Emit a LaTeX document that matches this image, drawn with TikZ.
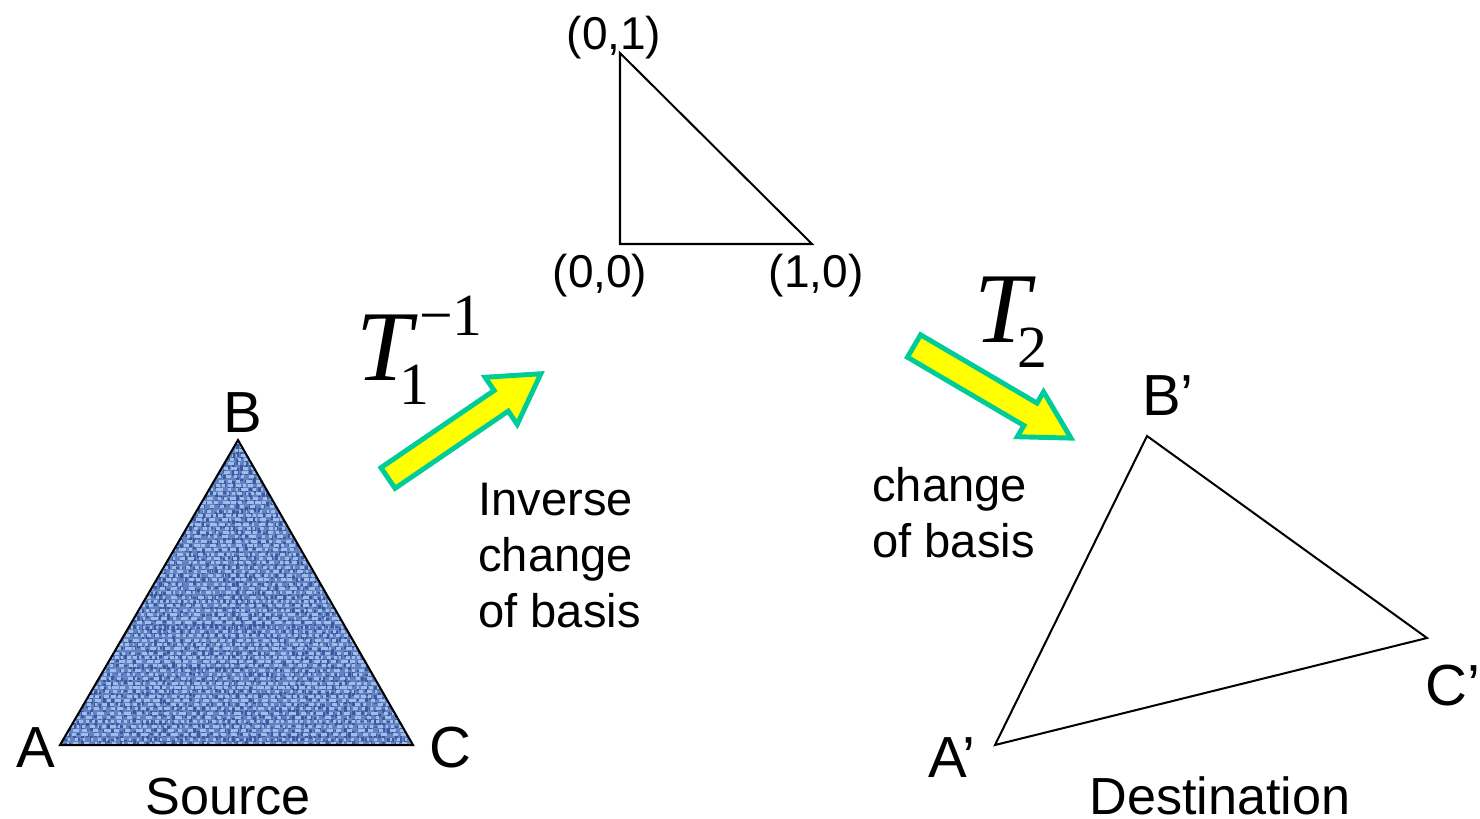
\documentclass[tikz,border=0pt]{standalone}
\usepackage{fontspec}
\setmainfont{Liberation Sans}
\newfontfamily\tfont{Liberation Serif}
\definecolor{wmid}{RGB}{98,130,194}
\definecolor{wdark}{RGB}{60,90,158}
\definecolor{wlight}{RGB}{160,188,234}
\definecolor{arrowgreen}{RGB}{0,204,153}
\definecolor{arrowyellow}{RGB}{255,255,0}
\newcommand\fatarrowpath[4]{(0,-#2) -- ({#1-#4},-#2) -- ({#1-#4},-#3) -- (#1,0) -- ({#1-#4},#3) -- ({#1-#4},#2) -- (0,#2) -- cycle}
\tikzset{
  lbl/.style={inner sep=0pt, font=\fontsize{33}{38}\selectfont, anchor=base},
  caption/.style={inner sep=0pt, font=\fontsize{29.7}{34}\selectfont, anchor=base},
  coord/.style={inner sep=0pt, font=\fontsize{26.2}{30}\selectfont, anchor=base},
  note/.style={inner sep=0pt, font=\fontsize{26.8}{31.8}\selectfont, align=left, anchor=north west},
  tlabel/.style={inner sep=0pt, anchor=base west},
  edge/.style={draw=black, line width=1.15pt, line join=miter},
  bigarrow/.style={draw=arrowgreen, fill=arrowyellow, line width=2.8pt, line join=miter},
  thread/.style={line width=1.7pt}
}
\begin{document}
\begin{tikzpicture}[x=0.02cm, y=-0.02cm]
\path[use as bounding box] (0,0) rectangle (1480,818);
% source triangle
\coordinate (A) at (60,745);
\coordinate (B) at (238,440);
\coordinate (C) at (413,745);
\fill[wmid] (A) -- (B) -- (C) -- cycle;
\begin{scope}
  \clip (A) -- (B) -- (C) -- cycle;
  \pgfmathsetseed{7}
  \foreach \j in {0,...,82}{
    \pgfmathsetmacro\ra{0.8+3*rnd}\pgfmathsetmacro\rb{0.8+3*rnd}\pgfmathsetmacro\rc{0.8+3*rnd}
    \pgfmathsetmacro\rd{0.8+3*rnd}\pgfmathsetmacro\re{0.8+3*rnd}\pgfmathsetmacro\rf{0.8+3*rnd}
    \pgfmathsetmacro\rp{12*rnd}
    \draw[thread, wdark, dash pattern=on \ra pt off \rb pt on \rc pt off \rd pt on \re pt off \rf pt, dash phase=\rp pt]
      ({57+4.3*\j},436) -- ({57+4.3*\j},750);
  }
  \foreach \i in {0,...,73}{
    \pgfmathsetmacro\ra{0.8+3*rnd}\pgfmathsetmacro\rb{0.8+3*rnd}\pgfmathsetmacro\rc{0.8+3*rnd}
    \pgfmathsetmacro\rd{0.8+3*rnd}\pgfmathsetmacro\re{0.8+3*rnd}\pgfmathsetmacro\rf{0.8+3*rnd}
    \pgfmathsetmacro\rp{12*rnd}
    \draw[thread, wlight, dash pattern=on \ra pt off \rb pt on \rc pt off \rd pt on \re pt off \rf pt, dash phase=\rp pt]
      (55,{438+4.3*\i}) -- (420,{438+4.3*\i});
  }
\end{scope}
\draw[edge] (A) -- (B) -- (C) -- cycle;
\node[lbl] (lA) at (36,767) {A};
\node[lbl] (lB) at (243,432) {B};
\node[lbl] (lC) at (450,767) {C};
\node[caption] (src) at (228,814) {Source};
% unit triangle
\coordinate (U1) at (620,53);
\coordinate (U0) at (620,244);
\coordinate (U2) at (812,244);
\draw[edge] (U1) -- (U0) -- (U2) -- cycle;
\node[coord] (l01) at (614,49) {(0,1)};
\node[coord] (l00) at (600,287) {(0,0)};
\node[coord] (l10) at (816,287) {(1,0)};
% destination triangle
\coordinate (A2) at (995,745);
\coordinate (B2) at (1147,436);
\coordinate (C2) at (1427,638);
\draw[edge] (A2) -- (B2) -- (C2) -- cycle;
\node[lbl] (lA2) at (952,777) {A’};
\node[lbl] (lB2) at (1168,415) {B’};
\node[lbl] (lC2) at (1453,705) {C’};
\node[caption] (dst) at (1220,814) {Destination};
% arrows
\begin{scope}[shift={(388,478)}, rotate=34.3]
  \draw[bigarrow] \fatarrowpath{185}{12.5}{28.5}{48};
\end{scope}
\begin{scope}[shift={(914,346)}, rotate=-30.4]
  \draw[bigarrow] \fatarrowpath{182}{13}{26}{47};
\end{scope}
% transformation labels
\node[tlabel] (T1) at (356,380) {\tfont\fontsize{57}{60}\selectfont\itshape T\kern-7pt\upshape\fontsize{34}{36}\selectfont\rlap{\kern11pt\raisebox{25.5pt}{−1}}\raisebox{-14pt}{1}};
\node[tlabel] (T2) at (974,342) {\tfont\fontsize{57}{60}\selectfont\itshape T\kern-7pt\upshape\fontsize{34}{36}\selectfont\raisebox{-14.5pt}{2}};
% notes
\node[note] (inv) at (478,483) {Inverse\\change\\of basis};
\node[note] (chg) at (872,467) {change\\of basis};
\end{tikzpicture}
\end{document}
